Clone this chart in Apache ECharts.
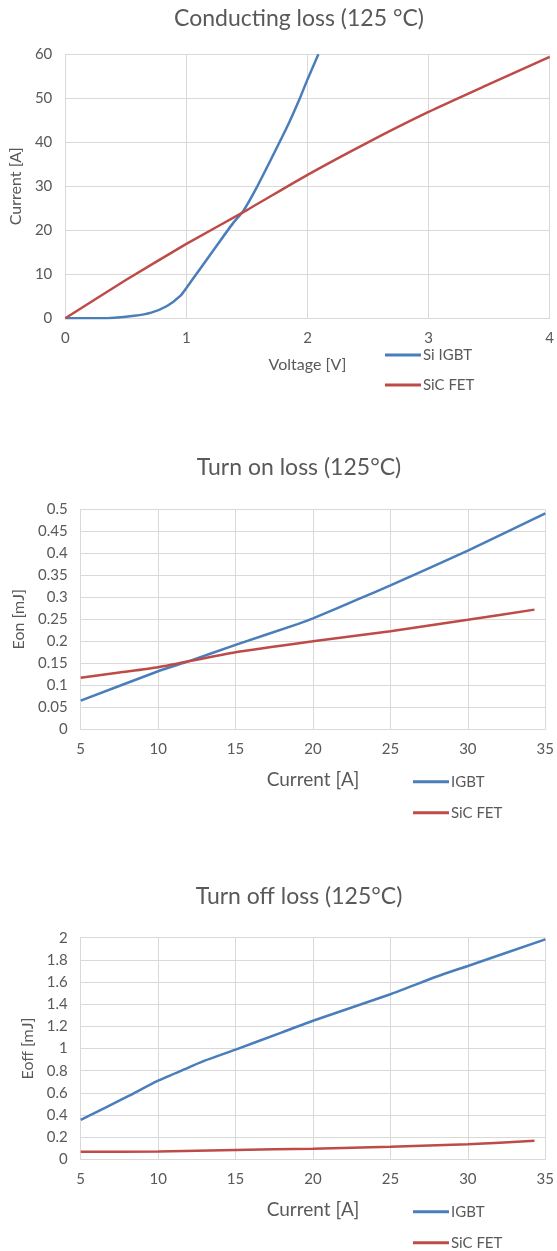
<!DOCTYPE html>
<html>
<head>
<meta charset="utf-8">
<script src="https://cdn.jsdelivr.net/npm/echarts@6/dist/echarts.min.js"></script>
<style>
html,body{margin:0;padding:0;background:#fff;}
#c{width:557px;height:1251px;}
</style>
</head>
<body>
<div id="c"></div>
<script>
// ---- Chart 1: Conducting loss ----
const c1Title = 'Conducting loss (125 °C)';
const c1IgbtV = [0, 0.3, 0.57, 0.71, 0.84, 0.95, 1.0, 1.12, 1.25, 1.39, 1.47, 1.58, 1.72, 1.83, 1.94, 2.0, 2.09];
const c1IgbtI = [0, 0, 0.6, 1.3, 2.8, 5.1, 6.9, 11.5, 16.5, 21.8, 24.4, 29.7, 37.3, 43.4, 50.2, 54.3, 60];
const c1FetV = [0, 0.5, 1, 1.5, 2, 2.5, 3, 3.5, 4];
const c1FetI = [0, 8.7, 16.9, 24.6, 32.6, 40.0, 46.9, 53.2, 59.4];
const c1XTicks = [0, 1, 2, 3, 4];
const c1YTicks = [0, 10, 20, 30, 40, 50, 60];

// ---- Chart 2: Turn on loss ----
const c2Title = 'Turn on loss (125°C)';
const c2IgbtX = [5, 10, 12, 15, 19, 20, 23, 25, 30, 35];
const c2IgbtY = [0.065, 0.132, 0.155, 0.192, 0.239, 0.252, 0.297, 0.327, 0.406, 0.491];
const c2FetX = [5, 7.5, 10, 15, 20, 25, 30, 34.3];
const c2FetY = [0.117, 0.129, 0.141, 0.175, 0.2, 0.223, 0.249, 0.272];

// ---- Chart 3: Turn off loss ----
const c3Title = 'Turn off loss (125°C)';
const c3IgbtX = [5, 8, 10, 12, 13, 15, 18, 20, 25, 28, 30, 35];
const c3IgbtY = [0.355, 0.565, 0.71, 0.83, 0.89, 0.99, 1.146, 1.25, 1.49, 1.65, 1.745, 1.985];
const c3FetX = [5, 10, 15, 20, 25, 30, 34.3];
const c3FetY = [0.068, 0.07, 0.084, 0.096, 0.114, 0.135, 0.168];

const BLUE = '#4A7EBB', RED = '#BE4B48', TXT = '#595959', GRID = '#D9D9D9';
const FONT = 'Lato';

function zip(a, b) { return a.map((v, i) => [v, b[i]]); }

function xAxis(gi, min, max, interval, name, nameSize, nameGap) {
  return {
    type: 'value', gridIndex: gi, min, max, interval,
    name, nameLocation: 'middle', nameGap,
    nameTextStyle: { color: TXT, fontSize: nameSize, fontFamily: FONT },
    axisLine: { show: true, lineStyle: { color: GRID, width: 1 } },
    axisTick: { show: false },
    axisLabel: { color: TXT, fontSize: 15, fontFamily: FONT, margin: 12 },
    splitLine: { show: true, lineStyle: { color: GRID, width: 1 } }
  };
}
function yAxis(gi, min, max, interval, name, nameGap) {
  return {
    type: 'value', gridIndex: gi, min, max, interval,
    name, nameLocation: 'middle', nameGap,
    nameTextStyle: { color: TXT, fontSize: 16, fontFamily: FONT },
    axisLine: { show: true, lineStyle: { color: GRID, width: 1 } },
    axisTick: { show: false },
    axisLabel: { color: TXT, fontSize: 15, fontFamily: FONT, margin: 13 },
    splitLine: { show: true, lineStyle: { color: GRID, width: 1 } }
  };
}
function line(name, color, gi, data) {
  return {
    type: 'line', name, xAxisIndex: gi, yAxisIndex: gi, data,
    smooth: 0.2, symbol: 'none', showSymbol: false,
    lineStyle: { color, width: 2.5 }, itemStyle: { color },
    silent: true, animation: false, z: 3
  };
}
function legendItem(name, left, cy) {
  return {
    data: [name], orient: 'vertical', left, top: cy - 8.5,
    icon: 'rect', itemWidth: 36, itemHeight: 3,
    selectedMode: false, padding: 0,
    textStyle: { color: TXT, fontSize: 15, fontFamily: FONT, lineHeight: 17, padding: [0, 0, 0, -3] }
  };
}
function titleText(text, cx, cy) {
  return { type: 'text', x: cx, y: cy,
    style: { text, fill: TXT, font: '23px ' + FONT, align: 'center', verticalAlign: 'middle' } };
}

const chart = echarts.init(document.getElementById('c'), null, { renderer: 'canvas' });
chart.setOption({
  animation: false,
  backgroundColor: '#fff',
  graphic: [
    titleText(c1Title, 299, 19),
    titleText(c2Title, 299, 468),
    titleText(c3Title, 299, 897)
  ],
  grid: [
    { left: 63, top: 54.3, width: 489.5, height: 264 },
    { left: 80.7, top: 509.3, width: 470, height: 220 },
    { left: 80.7, top: 937.7, width: 470, height: 221.6 }
  ],
  xAxis: [
    xAxis(0, c1XTicks[0], c1XTicks[c1XTicks.length - 1], 1, 'Voltage [V]', 16, 39),
    xAxis(1, 5, 35, 5, 'Current [A]', 19, 41),
    xAxis(2, 5, 35, 5, 'Current [A]', 19, 41)
  ],
  yAxis: [
    yAxis(0, c1YTicks[0], c1YTicks[c1YTicks.length - 1], 10, 'Current [A]', 35),
    yAxis(1, 0, 0.5, 0.05, 'Eon [mJ]', 46),
    yAxis(2, 0, 2, 0.2, 'Eoff [mJ]', 41)
  ],
  legend: [
    legendItem('Si IGBT', 385, 355),
    legendItem('SiC FET', 385, 385),
    legendItem('IGBT', 413, 781.7),
    legendItem('SiC FET', 413, 812.7),
    legendItem('IGBT', 413, 1211.7),
    legendItem('SiC FET', 413, 1242.7)
  ],
  series: [
    line('Si IGBT', BLUE, 0, zip(c1IgbtV, c1IgbtI)),
    line('SiC FET', RED, 0, zip(c1FetV, c1FetI)),
    line('IGBT', BLUE, 1, zip(c2IgbtX, c2IgbtY)),
    line('SiC FET', RED, 1, zip(c2FetX, c2FetY)),
    line('IGBT', BLUE, 2, zip(c3IgbtX, c3IgbtY)),
    line('SiC FET', RED, 2, zip(c3FetX, c3FetY))
  ]
});
</script>
</body>
</html>
